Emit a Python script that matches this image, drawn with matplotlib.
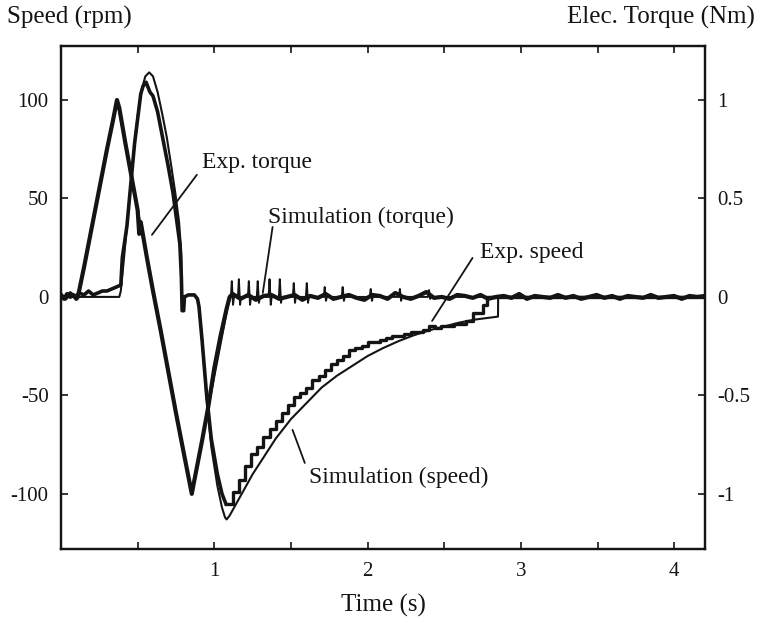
import numpy as np
import matplotlib
matplotlib.use("Agg")
import matplotlib.pyplot as plt

plt.rcParams['font.family'] = ['Liberation Serif', 'DejaVu Serif']
plt.rcParams['axes.unicode_minus'] = False

# experimental torque (Nm): triangle then noisy zero
t_trq = [0.00, 0.02, 0.04, 0.06, 0.08, 0.10, 0.11, 0.15, 0.20, 0.25, 0.30, 0.34,
         0.365, 0.38, 0.42, 0.46, 0.50, 0.51, 0.52, 0.56, 0.60, 0.65, 0.70, 0.75,
         0.80, 0.853, 0.87, 0.92, 0.96, 1.00, 1.04, 1.08, 1.10]
exp_trq = [0.01, -0.01, 0.015, 0.00, 0.01, -0.01, 0.00, 0.15, 0.35, 0.55, 0.75, 0.90,
           1.00, 0.96, 0.78, 0.61, 0.44, 0.32, 0.38, 0.20, 0.03, -0.17, -0.38, -0.59,
           -0.79, -1.00, -0.93, -0.73, -0.56, -0.36, -0.20, -0.06, 0.00]
trq_noise = [0.015, -0.01, 0.01, -0.015, 0.005, 0.01, -0.01, 0.00, 0.01, -0.015, 0.005, -0.005,
             0.015, -0.01, 0.00, 0.01, -0.005, -0.015, 0.01, 0.005, -0.01, 0.02, 0.00, -0.01,
             0.005, 0.025, -0.005, 0.00, -0.01, 0.01, 0.005, -0.005, 0.01, -0.01, 0.00, 0.005,
             -0.005, 0.015, -0.01, 0.005, 0.00, -0.005, 0.01, -0.005, 0.005, -0.01, 0.00, 0.01,
             -0.005, 0.005, -0.01, 0.005, 0.00, -0.005, 0.01, -0.005, 0.00, 0.005, -0.01, 0.005,
             0.00, 0.005]

# simulated torque: same triangle, then decaying spikes
t_sim_trq = [0.00, 0.11, 0.365, 0.853, 1.10]
sim_trq = [0.00, 0.00, 1.00, -1.00, 0.00]
spike_t = [1.114, 1.16, 1.225, 1.283, 1.36, 1.427, 1.518, 1.603, 1.72, 1.837, 2.02, 2.21, 2.40]
spike_hi = [0.08, 0.09, 0.08, 0.08, 0.09, 0.09, 0.07, 0.07, 0.05, 0.05, 0.04, 0.04, 0.035]
spike_lo = [-0.04, -0.04, -0.04, -0.03, -0.04, -0.03, -0.03, -0.03, -0.02, -0.02, -0.02, -0.02, -0.01]

# experimental speed (rpm)
t_spd = [0.00, 0.03, 0.06, 0.09, 0.12, 0.15, 0.18, 0.21, 0.24, 0.27, 0.30, 0.33,
         0.36, 0.39, 0.40, 0.43, 0.45, 0.48, 0.52, 0.535, 0.555, 0.58, 0.60, 0.63,
         0.665, 0.70, 0.73, 0.775, 0.785, 0.79, 0.80, 0.805, 0.83, 0.87, 0.89, 0.90,
         0.92, 0.95, 0.98, 1.02, 1.05, 1.075]
exp_spd = [1, -1, 2, 0, 2, 1, 3, 1, 2, 3, 3, 4,
           5, 6, 20, 36, 53, 78, 103, 107, 109, 104, 102, 94,
           80, 66, 53, 27, 10, -7, -7, 0, 1, 1, -1, -5,
           -22, -50, -72, -90, -100, -105]
# staircase recovery of the experimental speed
t_stair = [1.075, 1.12, 1.16, 1.20, 1.24, 1.28, 1.32, 1.36, 1.40, 1.44, 1.48, 1.52,
           1.56, 1.60, 1.64, 1.68, 1.72, 1.76, 1.80, 1.84, 1.88, 1.92, 1.96, 2.00,
           2.04, 2.08, 2.12, 2.16, 2.20, 2.24, 2.28, 2.32, 2.36, 2.40, 2.44, 2.48,
           2.52, 2.56, 2.60, 2.64, 2.69, 2.75, 2.78, 4.20]
stair_spd = [-105, -99, -93, -86, -80, -76, -71, -67, -63, -59, -55, -51,
             -49, -46, -42, -40, -37, -34, -32, -30, -27, -26, -25, -23,
             -23, -22, -21, -20, -20, -19, -18, -18, -17, -15, -16, -15,
             -15, -14, -14, -12, -8, -4, 0, 0]

# simulated speed (rpm)
t_sim_spd = [0.00, 0.38, 0.39, 0.41, 0.43, 0.45, 0.48, 0.50, 0.525, 0.55, 0.575, 0.60,
             0.63, 0.66, 0.69, 0.72, 0.745, 0.77, 0.785, 0.79, 0.80, 0.805, 0.83, 0.87,
             0.89, 0.90, 0.92, 0.95, 0.98, 1.02, 1.05, 1.07, 1.08, 1.10, 1.15, 1.20,
             1.25, 1.30, 1.35, 1.40, 1.45, 1.50, 1.60, 1.70, 1.80, 1.90, 2.00, 2.10,
             2.20, 2.30, 2.40, 2.50, 2.60, 2.70, 2.80, 2.85, 2.851, 4.20]
sim_spd = [0, 0, 3, 19, 36, 53, 78, 92, 105, 112, 114, 112,
           104, 93, 81, 66, 53, 38, 22, -2, -7, 0, 1, 1,
           -1, -5, -22, -52, -76, -96, -107, -112, -113, -111, -104, -97,
           -90, -84, -78, -72, -67, -62, -54, -46, -40, -35, -30, -26,
           -22.5, -19.5, -17, -15, -13, -11.5, -10.5, -10, 0, 0]

# build torque series from the pieces above
t_noise = np.linspace(1.12, 4.20, len(trq_noise))
t_exp_trq = np.concatenate([t_trq, t_noise])
v_exp_trq = np.concatenate([exp_trq, trq_noise])

ts, vs = list(t_sim_trq), list(sim_trq)
for st, hi, lo in zip(spike_t, spike_hi, spike_lo):
    ts += [st - 0.006, st, st + 0.008, st + 0.014]
    vs += [0.0, hi, lo, 0.0]
ts += [4.20]
vs += [0.0]

fig = plt.figure(figsize=(7.59, 6.29), dpi=100)
ax = fig.add_axes([61/759, 1 - 549/629, 644/759, 503/629])
ax2 = ax.twinx()

ink = '#141414'
ax.plot(t_spd, exp_spd, color=ink, lw=2.6)
ax.plot(t_stair, stair_spd, color=ink, lw=2.4, drawstyle='steps-post')
ax.plot(t_sim_spd, sim_spd, color=ink, lw=1.5)
ax2.plot(t_exp_trq, v_exp_trq, color=ink, lw=3.0)
ax2.plot(ts, vs, color=ink, lw=1.4)

ax.set_xlim(0, 4.2)
ax.set_ylim(-128, 127.4)
ax2.set_ylim(-1.28, 1.274)

ax.set_xticks([1, 2, 3, 4])
ax.set_xticklabels(['1', '2', '3', '4'])
ax.set_xticks([0.5, 1.5, 2.5, 3.5], minor=True)
ax.set_yticks([-100, -50, 0, 50, 100])
ax.set_yticklabels(['-100', '-50', '0', '50', '100'])
ax2.set_yticks([-1, -0.5, 0, 0.5, 1])
ax2.set_yticklabels(['-1', '-0.5', '0', '0.5', '1'])

for a in (ax, ax2):
    a.tick_params(which='both', direction='in', length=5, width=1.2,
                  labelsize=15, colors=ink, pad=9)
    for s in a.spines.values():
        s.set_linewidth(1.6)
        s.set_color(ink)
ax.tick_params(which='both', top=True)
ax.tick_params(axis='x', pad=9)

fs_title = 18
fig.text(7/759, 1 - 17/629, 'Speed (rpm)', fontsize=fs_title, va='center', ha='left', color=ink)
fig.text(755/759, 1 - 17/629, 'Elec. Torque (Nm)', fontsize=fs_title, va='center', ha='right', color=ink)
fig.text(383/759, 1 - 605/629, 'Time (s)', fontsize=fs_title, va='center', ha='center', color=ink)

fs = 17
line = dict(arrowstyle='-', color=ink, lw=1.3, shrinkA=0, shrinkB=0)
ax.annotate('Exp. torque', xy=(0.92, 68), fontsize=fs, va='center', ha='left', color=ink)
ax.annotate('', xy=(0.593, 31.5), xytext=(0.886, 62), arrowprops=line)
ax.annotate('Simulation (torque)', xy=(1.35, 40.6), fontsize=fs, va='center', ha='left', color=ink)
ax.annotate('', xy=(1.316, 2), xytext=(1.38, 35.5), arrowprops=line)
ax.annotate('Exp. speed', xy=(2.73, 22.8), fontsize=fs, va='center', ha='left', color=ink)
ax.annotate('', xy=(2.42, -12.2), xytext=(2.684, 19.8), arrowprops=line)
ax.annotate('Simulation (speed)', xy=(1.62, -91.4), fontsize=fs, va='center', ha='left', color=ink)
ax.annotate('', xy=(1.51, -67.5), xytext=(1.59, -84.3), arrowprops=line)

fig.savefig('out.png', dpi=100)
